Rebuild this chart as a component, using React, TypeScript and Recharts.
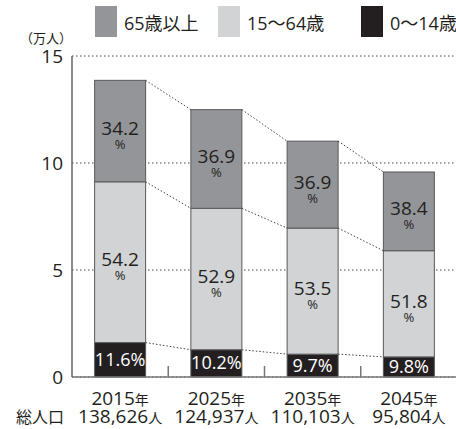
import React from 'react';
import { BarChart, Bar, XAxis, YAxis, CartesianGrid, Legend } from 'recharts';

const years = ['2015', '2025', '2035', '2045'];
const totals = [138626, 124937, 110103, 95804];
const pctChild = [11.6, 10.2, 9.7, 9.8];
const pctWork = [54.2, 52.9, 53.5, 51.8];
const pctOld = [34.2, 36.9, 36.9, 38.4];
const yTicks = [0, 5, 10, 15];

const OLD = '#939598';
const WORK = '#d1d3d4';
const CHILD = '#231f20';
const EDGE = '#58595b';
const FONT = "'Open Sans', 'Noto Sans CJK JP', sans-serif";

// values in 万人
const data = years.map((year, i) => {
  const t = totals[i] / 10000;
  return {
    year,
    total: totals[i],
    child: (t * pctChild[i]) / 100,
    work: (t * pctWork[i]) / 100,
    old: (t * pctOld[i]) / 100,
    pChild: pctChild[i],
    pWork: pctWork[i],
    pOld: pctOld[i],
  };
});

const GAP = 0.235;
const BAR_FRAC = 1 - 2 * GAP;

type Key = 'child' | 'work' | 'old';

const cumTop = (d: any, key: Key) => {
  if (key === 'child') return d.child;
  if (key === 'work') return d.child + d.work;
  return d.child + d.work + d.old;
};

const makeShape = (key: Key, fill: string) => (props: any) => {
  const { x, y, width, height, index } = props;
  const d = data[index];
  const value = d[key];
  const ppu = height / value;
  const top = cumTop(d, key);
  const zeroY = y + height + (top - value) * ppu;
  const next = data[index + 1];
  const step = width / BAR_FRAC;
  const cx = x + width / 2;
  const cy = y + height / 2;
  const pct = key === 'child' ? d.pChild : key === 'work' ? d.pWork : d.pOld;
  return (
    <g>
      <rect x={x} y={y} width={width} height={height} fill={fill} stroke={EDGE} strokeWidth={1} />
      {next && (
        <line
          x1={x + width}
          y1={y}
          x2={x + step}
          y2={zeroY - cumTop(next, key) * ppu}
          stroke="#444"
          strokeWidth={1}
          strokeDasharray="1.5 2"
        />
      )}
      {key === 'child' ? (
        <text x={cx} y={cy + 6} textAnchor="middle" fontSize={18} fill="#fff" fontFamily={FONT}>
          {pct.toFixed(1)}%
        </text>
      ) : (
        <g fontFamily={FONT} fill="#231f20" textAnchor="middle">
          <text x={cx} y={cy + 4} fontSize={19}>{pct.toFixed(1)}</text>
          <text x={cx} y={cy + 18} fontSize={13}>%</text>
        </g>
      )}
    </g>
  );
};

const XTick = (props: any) => {
  const { x, y, payload } = props;
  const i = payload.index;
  const half = payload.offset ?? 0;
  return (
    <g fontFamily={FONT} fill="#231f20">
      {i < years.length - 1 && (
        <line x1={x + half} x2={x + half} y1={y - 11} y2={y} stroke="#777" strokeWidth={1.5} />
      )}
      <text x={x} y={y + 28} textAnchor="middle" fontSize={19}>
        {payload.value}
        <tspan fontSize={14}>年</tspan>
      </text>
      <text x={x} y={y + 46} textAnchor="middle" fontSize={19}>
        {totals[i].toLocaleString('en-US')}
        <tspan fontSize={14}>人</tspan>
      </text>
      {i === 0 && (
        <text x={x - 56} y={y + 46} textAnchor="end" fontSize={16}>
          総人口
        </text>
      )}
    </g>
  );
};

const LegendBox = (props: any) => {
  const items = [...(props.payload || [])].reverse();
  const widths = [123, 143, 120];
  return (
    <div style={{ display: 'flex', paddingLeft: 95, paddingTop: 6, fontFamily: FONT }}>
      {items.map((it: any, i: number) => (
        <div key={it.value} style={{ display: 'flex', alignItems: 'center', width: widths[i], flexShrink: 0 }}>
          <div style={{ width: 22, height: 31, background: it.color, marginRight: 7 }} />
          <span style={{ fontSize: 18, color: '#231f20', whiteSpace: 'nowrap' }}>{it.value}</span>
        </div>
      ))}
    </div>
  );
};

export default function App() {
  return (
    <div style={{ position: 'absolute', left: 0, top: 0, width: 456, height: 429, overflow: 'hidden', background: '#fff' }}>
      <BarChart
        width={460}
        height={429}
        data={data}
        margin={{ top: 56, right: 3, left: 0, bottom: 0 }}
        barCategoryGap={`${GAP * 100}%`}
      >
        <CartesianGrid vertical={false} stroke="#444" strokeDasharray="1.5 2.5" />
        <XAxis
          dataKey="year"
          height={52}
          axisLine={{ stroke: '#777', strokeWidth: 1.5 }}
          tickLine={false}
          tickSize={0}
          tickMargin={0}
          interval={0}
          tick={<XTick />}
        />
        <YAxis
          width={72}
          domain={[0, 15]}
          ticks={yTicks}
          axisLine={{ stroke: '#666', strokeWidth: 1.5 }}
          tickLine={false}
          tickSize={0}
          tickMargin={9}
          tick={{ fontSize: 19, fill: '#231f20', fontFamily: FONT }}
          label={{
            content: (p: any) => (
              <text
                x={p.viewBox.x + 46}
                y={p.viewBox.y - 13}
                textAnchor="middle"
                fontSize={13}
                fill="#231f20"
                fontFamily={FONT}
              >
                （万人）
              </text>
            ),
          }}
        />
        <Legend
          layout="horizontal"
          verticalAlign="middle"
          wrapperStyle={{ top: 0, left: 0, width: 456 }}
          content={<LegendBox />}
        />
        <Bar dataKey="child" name="0〜14歳" stackId="a" fill={CHILD} shape={makeShape('child', CHILD)} isAnimationActive={false} />
        <Bar dataKey="work" name="15〜64歳" stackId="a" fill={WORK} shape={makeShape('work', WORK)} isAnimationActive={false} />
        <Bar dataKey="old" name="65歳以上" stackId="a" fill={OLD} shape={makeShape('old', OLD)} isAnimationActive={false} />
      </BarChart>
    </div>
  );
}
